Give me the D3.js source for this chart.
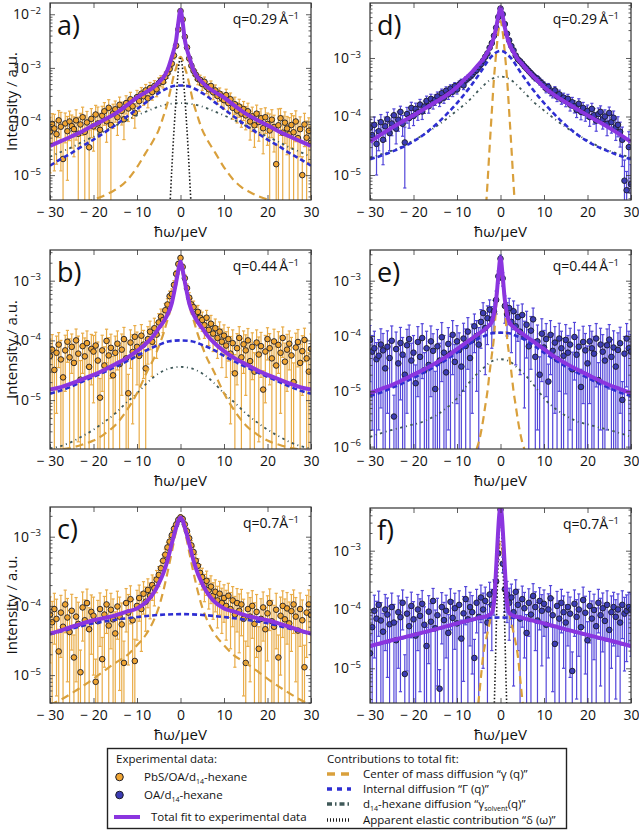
<!DOCTYPE html>
<html><head><meta charset="utf-8">
<script src="https://cdn.jsdelivr.net/npm/d3@7"></script>
<style>
body{margin:0;background:#fff}
svg{display:block}
text{font-family:"Open Sans","Noto Sans",sans-serif;fill:#111}
</style>
</head><body>
<svg id="chart" width="639" height="832"></svg>
<script>
// ---------------- DATA (intensities in units of 1e-5 a.u.) ----------------
const UNIT = 1e-5;
const energy = [-30,-29.5,-29,-28.5,-28,-27.5,-27,-26.5,-26,-25.5,-25,-24.5,-24,-23.5,-23,-22.5,-22,-21.5,-21,-20.5,-20,-19.5,-19,-18.5,-18,-17.5,-17,-16.5,-16,-15.5,-15,-14.5,-14,-13.5,-13,-12.5,-12,-11.5,-11,-10.5,-10,-9.5,-9,-8.5,-8,-7.5,-7,-6.5,-6,-5.5,-5,-4.5,-4,-3.5,-3,-2.5,-2,-1.5,-1,-0.5,0,0.5,1,1.5,2,2.5,3,3.5,4,4.5,5,5.5,6,6.5,7,7.5,8,8.5,9,9.5,10,10.5,11,11.5,12,12.5,13,13.5,14,14.5,15,15.5,16,16.5,17,17.5,18,18.5,19,19.5,20,20.5,21,21.5,22,22.5,23,23.5,24,24.5,25,25.5,26,26.5,27,27.5,28,28.5,29,29.5,30];

// panel a : PbS/OA/d14-hexane, q=0.29
const intensityA = [6.5,9.0,7.4,5.8,10.5,8.0,2.0,9.2,6.6,10.0,8.2,
 7.2,10.5,5.9,8.8,12.0,6.4,9.6,3.3,11.2,8.1,
 13.5,9.2,7.0,12.8,15.5,10.1,18.0,8.6,14.2,16.9,
 12.0,20.5,15.8,11.0,22.0,17.5,26.0,19.2,14.5,28.5,
 24.0,33.0,29.5,38.0,27.0,42.0,35.5,46.0,40.0,52.0,
 58,55,68,80,95,120,170,260,520,
 1150,
 800,380,240,150,110,88,75,62,60,
 50,55,44,40,46,35,38,30,33,27,
 25,31,22,26,18,21,16,19,14,17,
 13,15.5,10,12.5,8.5,14,9.8,11.5,7.5,12,
 9.0,6.8,10.8,7.9,1.6,8.5,11.5,6.2,9.5,7.4,
 5.8,8.6,6.3,10.0,4.9,7.2,1.0,8.8,5.0,6.7,4.0];
const errorA = [5.4,5.0,6.2,4.2,5.5,6.8,2.5,5.2,5.8,5.6,5.0,
 5.0,6.0,6.1,5.4,6.5,6.6,5.8,3.6,6.2,5.3,
 6.5,9.4,7.2,6.4,7.0,6.0,7.5,8.8,6.8,7.2,
 6.5,8.0,7.2,6.4,8.2,7.5,9.0,7.8,7.0,9.5,
 8.5,10,9.5,11,9.0,11.5,10.5,12,11,13,
 13.5,13,15,16,18,20,24,30,40,
 60,
 50,32,26,21,18,16,15,13.5,13,
 12,12.5,11,10.5,11,9.5,10,9,9.2,8.5,
 8.2,9.0,7.6,8.0,7.0,7.4,6.6,7.0,6.2,6.6,
 6.0,6.4,5.5,6.0,5.2,6.2,5.5,5.8,5.0,6.0,
 5.4,7.0,5.8,5.2,2.0,8.7,6.0,6.4,5.6,5.0,
 6.0,5.4,6.5,5.8,5.1,5.0,1.2,5.4,5.2,5.0,4.2];
const fitA = [[-30,3.5],[-27.5,4.3],[-25,5.3],[-22.5,6.6],[-20,8.5],[-17.5,10.8],[-15,14],[-12.5,19.5],[-10,28],[-8,35],[-6,45],[-5,54],[-4,65],[-3,90],[-2,160],[-1.5,220],[-1,330],[-0.5,700],[0,1200],[0.5,700],[1,330],[1.5,220],[2,160],[3,90],[4,65],[5,54],[6,45],[8,35],[10,28],[12.5,19.5],[15,14],[17.5,10.8],[20,8.5],[22.5,6.6],[25,5.3],[27.5,4.3],[30,3.5]];
const internalA = [[-30,1.5],[-27.5,2.0],[-25,2.6],[-22.5,3.5],[-20,4.6],[-17.5,6.2],[-15,8.5],[-12.5,12],[-10,17],[-8,22.5],[-6,30],[-4,38],[-2,45],[0,47],[2,45],[4,38],[6,30],[8,22.5],[10,17],[12.5,12],[15,8.5],[17.5,6.2],[20,4.6],[22.5,3.5],[25,2.6],[27.5,2.0],[30,1.5]];
const solventA = [[-30,2.2],[-27.5,2.7],[-25,3.3],[-22.5,4.2],[-20,5.2],[-17.5,6.6],[-15,8.3],[-12.5,10.5],[-10,13],[-7.5,15.8],[-5,19],[-2.5,21.2],[0,22],[2.5,21.2],[5,19],[7.5,15.8],[10,13],[12.5,10.5],[15,8.3],[17.5,6.6],[20,5.2],[22.5,4.2],[25,3.3],[27.5,2.7],[30,2.2]];
const comA = [[-22,0.3],[-20,0.35],[-18,0.4],[-16,0.48],[-14,0.6],[-12,0.85],[-10,1.4],[-8,2.6],[-6,4.8],[-5,7],[-4,12],[-3,22],[-2,50],[-1.5,75],[-1,100],[-0.5,140],[0,160],[0.5,140],[1,100],[1.5,75],[2,50],[3,22],[4,12],[5,7],[6,4.8],[8,2.6],[10,1.4],[12,0.85],[14,0.6],[16,0.48],[18,0.4],[20,0.35],[22,0.3]];
const elasticA = [[-2.8,0.08],[-2.4,0.32],[-2,1.3],[-1.6,5],[-1.2,16],[-0.8,45],[-0.4,110],[0,150],[0.4,110],[0.8,45],[1.2,16],[1.6,5],[2,1.3],[2.4,0.32],[2.8,0.08]];

// panel b : PbS/OA/d14-hexane, q=0.44
const intensityB = [5.5,7.0,3.2,6.2,8.5,4.8,2.4,6.8,9.5,5.2,7.8,
 4.2,10.0,6.0,2.2,8.0,5.4,9.0,3.6,7.2,6.5,
 8.2,4.6,1.1,6.8,3.8,9.8,5.6,7.5,2.6,6.2,
 8.8,4.0,7.0,10.5,5.0,1.3,9.2,6.4,11.5,7.8,
 5.5,12.0,8.5,3.4,10.5,14.0,9.5,16.0,12.5,20.0,
 25,22,32,40,55,60,85,130,190,
 240,
 170,110,75,52,40,36,28,30,24,
 22,18,24,15,19,13,16,11,14,9.5,
 12,8.2,10.5,6.0,9.0,2.8,7.4,11.0,5.2,8.6,
 6.8,10.0,4.5,7.8,3.0,9.2,5.8,8.0,1.5,6.5,
 10.5,7.4,5.0,9.6,3.8,8.4,6.2,11.0,4.4,7.0,
 8.8,5.6,2.0,7.6,9.4,4.2,6.6,10.2,5.0,3.0,7.2];
const errorB = [5.0,5.5,3.4,5.6,5.0,5.2,2.6,5.4,5.2,5.4,5.0,
 4.4,5.5,5.8,2.4,5.2,5.6,5.4,3.8,5.4,5.6,
 5.5,4.8,1.2,5.4,4.0,5.6,5.5,5.2,2.8,5.6,
 5.6,4.2,5.8,6.0,5.2,1.4,5.8,6.0,6.2,6.0,
 5.8,6.4,6.2,3.6,6.5,7.0,7.0,7.5,7.5,8.0,
 8.5,8.5,9.5,10,12,13,15,18,22,
 25,
 20,16,13,11,10,9.5,8.5,8.5,8.0,
 7.8,7.2,7.8,6.8,7.2,6.5,6.8,6.0,6.4,6.0,
 6.2,5.8,6.0,5.6,6.0,3.0,5.6,6.0,5.4,5.8,
 5.6,5.8,4.8,5.6,3.2,5.8,5.6,5.6,1.6,5.6,
 5.8,5.6,5.2,5.8,4.0,5.6,5.6,5.8,4.6,5.6,
 5.6,5.6,2.2,5.6,5.8,4.4,5.4,5.8,5.2,3.2,5.6];
const fitB = [[-30,1.5],[-27.5,1.65],[-25,1.9],[-22.5,2.25],[-20,2.65],[-17.5,3.2],[-15,4.0],[-12.5,5.0],[-10,6.6],[-7.5,9.5],[-6,12.5],[-5,16],[-4,20],[-3,27],[-2,42],[-1.5,62],[-1,95],[-0.5,150],[0,210],[0.5,150],[1,95],[1.5,62],[2,42],[3,27],[4,20],[5,16],[6,12.5],[7.5,9.5],[10,6.6],[12.5,5.0],[15,4.0],[17.5,3.2],[20,2.65],[22.5,2.25],[25,1.9],[27.5,1.65],[30,1.5]];
const internalB = [[-30,1.28],[-27.5,1.45],[-25,1.7],[-22.5,2.05],[-20,2.45],[-17.5,2.95],[-15,3.6],[-12.5,4.4],[-10,5.5],[-7.5,7.0],[-5,8.4],[-2.5,9.7],[0,10],[2.5,9.7],[5,8.4],[7.5,7.0],[10,5.5],[12.5,4.4],[15,3.6],[17.5,2.95],[20,2.45],[22.5,2.05],[25,1.7],[27.5,1.45],[30,1.28]];
const solventB = [[-30,0.155],[-27.5,0.17],[-25,0.2],[-22.5,0.25],[-20,0.32],[-17.5,0.43],[-15,0.6],[-12.5,0.9],[-10,1.3],[-7.5,2.0],[-5,2.8],[-2.5,3.4],[0,3.6],[2.5,3.4],[5,2.8],[7.5,2.0],[10,1.3],[12.5,0.9],[15,0.6],[17.5,0.43],[20,0.32],[22.5,0.25],[25,0.2],[27.5,0.17],[30,0.155]];
const comB = [[-30,0.14],[-27.5,0.15],[-25,0.16],[-22.5,0.18],[-20,0.21],[-17.5,0.27],[-15,0.38],[-12.5,0.65],[-10,1.3],[-7.5,3.2],[-6,5.2],[-5,7.9],[-4,12.5],[-3,22],[-2,40],[-1.5,60],[-1,90],[-0.5,130],[0,170],[0.5,130],[1,90],[1.5,60],[2,40],[3,22],[4,12.5],[5,7.9],[6,5.2],[7.5,3.2],[10,1.3],[12.5,0.65],[15,0.38],[17.5,0.27],[20,0.21],[22.5,0.18],[25,0.16],[27.5,0.15],[30,0.14]];

// panel c : PbS/OA/d14-hexane, q=0.7
const intensityC = [7.5,5.8,9.0,6.5,2.2,8.0,5.0,10.5,6.8,4.2,8.5,
 1.8,7.0,5.5,1.1,9.5,6.2,11.0,4.6,8.2,7.2,
 0.8,6.0,9.0,1.7,7.5,10.5,5.2,8.8,6.4,4.0,
 9.8,7.0,5.4,1.5,11.0,8.0,12.5,6.2,1.6,10.0,
 13.0,9.0,15.0,11.5,17.0,14.0,20.0,18.0,24.0,28.0,
 35,45,55,70,85,105,130,150,175,
 190,
 180,150,120,95,75,60,45,38,30,
 26,20,23,17,19,14,16,12,15,11,
 13,10,14,9,12,7.5,11,8.5,10.5,6.5,
 1.5,9.0,7.0,10.0,5.5,8.2,2.4,6.5,9.5,4.6,
 7.8,11.0,6.0,5.0,8.8,1.8,7.2,10.0,6.4,9.2,
 5.6,8.4,10.5,7.0,4.4,9.0,6.2,1.3,8.0,10.5,7.4];
const errorC = [6.0,5.8,6.2,6.0,2.4,6.2,5.2,6.4,6.0,4.4,6.2,
 2.0,6.2,5.8,1.2,6.4,6.0,6.5,4.8,6.2,6.2,
 0.9,6.0,6.4,1.8,6.2,6.5,5.4,6.4,6.2,4.2,
 6.5,6.4,5.6,1.6,6.8,6.6,7.0,6.2,1.7,6.8,
 7.0,6.8,7.4,7.2,7.6,7.5,8.0,8.0,8.5,9.0,
 9.5,10,11,12,13,14,15,16,17,
 18,
 17,16,15,13.5,12.5,11.5,10.5,10,9.5,
 9.0,8.5,8.8,8.0,8.2,7.6,7.8,7.2,7.6,7.0,
 7.2,6.8,7.2,6.6,7.0,6.2,6.8,6.4,6.8,6.0,
 1.6,6.4,6.2,6.6,5.6,6.4,2.6,6.2,6.4,4.8,
 6.2,6.6,6.0,5.2,6.4,2.0,6.2,6.5,6.2,6.4,
 5.8,6.2,6.5,6.2,4.6,6.4,6.0,1.4,6.2,6.5,6.2];
const fitC = [[-30,4.0],[-27.5,4.4],[-25,5.0],[-22.5,5.6],[-20,6.2],[-17.5,6.7],[-15,7.3],[-12.5,8.2],[-10,9.2],[-7.5,12],[-6,16],[-5,21],[-4,29],[-3,45],[-2,80],[-1.5,105],[-1,135],[-0.5,170],[0,190],[0.5,170],[1,135],[1.5,105],[2,80],[3,45],[4,29],[5,21],[6,16],[7.5,12],[10,9.2],[12.5,8.2],[15,7.3],[17.5,6.7],[20,6.2],[22.5,5.6],[25,5.0],[27.5,4.4],[30,4.0]];
const internalC = [[-30,3.9],[-25,4.7],[-20,5.6],[-15,6.3],[-10,6.9],[-5,7.4],[0,7.6],[5,7.4],[10,6.9],[15,6.3],[20,5.6],[25,4.7],[30,3.9]];
const comC = [[-30,0.37],[-27,0.46],[-24,0.6],[-21,0.8],[-18,1.1],[-15,1.5],[-12,2.0],[-10,2.7],[-8,3.8],[-6,6.5],[-5,9.5],[-4,16],[-3,30],[-2,60],[-1,120],[0,180],[1,120],[2,60],[3,30],[4,16],[5,9.5],[6,6.5],[8,3.8],[10,2.7],[12,2.0],[15,1.5],[18,1.1],[21,0.8],[24,0.6],[27,0.46],[30,0.37]];

// panel d : OA/d14-hexane, q=0.29
const intensityD = [6.5,4.8,7.2,3.4,5.6,8.0,4.0,6.8,9.0,5.2,7.6,
 10.5,6.2,8.8,12.0,7.5,3.6,11.0,9.4,14.0,10.2,
 13.5,11.8,16.0,12.2,14.8,18.5,15.0,20.0,17.2,19.5,
 22.0,18.8,25.0,21.0,27.5,24.0,30.0,26.5,33.0,29.0,
 35.0,38.0,34.0,42.0,45.0,48.0,52.0,58.0,62.0,70.0,
 78,90,105,120,150,180,240,330,500,
 700,
 560,380,260,200,160,135,110,95,88,
 80,72,66,60,55,50,46,44,40,37,
 34,30,32,27,25,28,22,24,20,21,
 18.5,20.0,16.0,17.5,15.0,13.0,16.5,12.0,14.0,11.5,
 12.5,9.8,13.5,10.5,8.5,11.0,12.0,9.0,10.0,7.5,
 11.5,8.0,9.5,6.5,7.2,5.5,4.0,0.8,0.55,3.0,0.7];
const errorD = [2.5,2.8,2.6,2.4,3.0,2.8,2.5,3.0,2.8,2.6,2.9,
 3.0,2.8,3.2,3.0,2.9,3.0,3.3,3.1,3.5,3.2,
 3.4,3.2,3.6,3.3,3.5,3.8,3.6,4.0,3.8,4.0,
 4.2,4.0,4.4,4.2,4.6,4.4,4.8,4.6,5.0,4.8,
 5.2,5.4,5.2,5.6,5.8,6.0,6.2,6.5,6.8,7.0,
 7.5,8,8.5,9,10,11,13,15,18,
 22,
 20,16,13,11,10,9,8.5,8,7.5,
 7.2,6.8,6.5,6.2,6.0,5.8,5.6,5.4,5.2,5.0,
 4.8,4.6,4.6,4.4,4.2,4.4,4.0,4.2,3.8,4.0,
 3.8,3.9,3.6,3.7,3.5,3.4,3.6,3.2,3.4,3.2,
 3.2,3.0,3.3,3.1,2.9,3.0,3.2,2.9,3.0,2.8,
 3.0,2.8,2.9,2.6,2.7,2.5,2.6,1.0,0.6,2.5,0.8];
const fitD = [[-30,3.7],[-27.5,4.9],[-25,6.4],[-22.5,8.2],[-20,10.5],[-17.5,13.5],[-15,17.5],[-12.5,23],[-10,32],[-8,45],[-6.5,58],[-5,78],[-4,95],[-3,125],[-2,175],[-1.5,230],[-1,330],[-0.5,520],[0,730],[0.5,520],[1,330],[1.5,230],[2,175],[3,125],[4,95],[5,78],[6.5,58],[8,45],[10,32],[12.5,23],[15,17.5],[17.5,13.5],[20,10.5],[22.5,8.2],[25,6.4],[27.5,4.9],[30,3.7]];
const internalD = [[-30,1.85],[-25,2.5],[-20.7,3.5],[-17.2,5.2],[-13.8,8.6],[-10,17],[-7,32],[-4.6,57],[-2.3,102],[0,133],[2.3,102],[4.6,57],[7,32],[10,17],[13.8,8.6],[17.2,5.2],[20.7,3.5],[25,2.5],[30,1.85]];
const solventD = [[-30,2.0],[-27.5,2.25],[-25,2.6],[-22.5,3.1],[-20,3.9],[-17.5,5],[-15,6.6],[-12.5,9],[-10,12.7],[-7.5,18],[-5,28],[-2,44],[0,48],[2,44],[5,28],[7.5,18],[10,12.7],[12.5,9],[15,6.6],[17.5,5],[20,3.9],[22.5,3.1],[25,2.6],[27.5,2.25],[30,2.0]];
const comD = [[-3.5,0.15],[-3,0.7],[-2.5,3],[-2,12],[-1.5,45],[-1,120],[-0.5,280],[0,430],[0.5,280],[1,120],[1.5,45],[2,12],[2.5,3],[3,0.7],[3.5,0.15]];

// panel e : OA/d14-hexane, q=0.44
const intensityE = [8.5,5.2,6.0,3.8,4.4,7.0,5.5,2.6,6.4,4.0,8.2,
 0.35,5.8,3.2,7.5,4.6,2.0,6.8,8.8,3.6,5.0,
 1.4,7.8,4.2,9.2,2.4,6.0,3.0,8.0,5.4,1.1,
 6.5,3.6,9.5,5.0,2.2,7.2,4.8,10.5,3.4,8.0,
 5.6,2.8,9.0,6.6,12.0,4.0,8.4,15.0,10.0,7.0,
 18,26,14,21,30,20,28,45,120,
 250,
 110,35,25,32,18,28,15,22,12,
 24,9.5,16,6.5,12.5,20,4.2,8.0,2.0,11.0,
 6.2,8.8,1.5,10.5,5.4,7.6,3.8,9.0,6.0,4.4,
 8.5,5.0,7.0,2.5,9.6,4.6,6.4,1.2,7.8,5.5,
 3.2,8.0,6.0,4.8,9.0,1.6,7.0,5.2,3.6,6.8,
 8.6,4.2,6.2,2.8,5.6,7.4,0.7,4.8,9.0,6.0,5.2];
const errorE = [7.0,5.0,6.2,3.8,4.2,6.5,5.6,2.8,6.0,4.2,7.0,
 0.5,6.0,3.3,6.8,4.8,2.2,6.4,7.0,3.8,5.2,
 1.6,7.0,4.4,7.5,2.6,6.2,3.2,7.2,5.6,1.2,
 6.6,3.8,8.0,5.2,2.4,7.0,5.0,8.5,3.6,7.4,
 5.8,3.0,8.0,6.8,9.5,4.2,8.0,10.0,9.0,7.2,
 12,14,12,14,15,14,16,20,30,
 40,
 30,18,15,16,13,15,12,14,10,
 14,9.0,12,6.6,10,12,4.4,7.8,2.2,9.5,
 6.4,8.0,1.6,8.5,5.6,7.2,4.0,8.0,6.2,4.6,
 7.6,5.2,6.8,2.6,8.0,4.8,6.4,1.3,7.2,5.6,
 3.4,7.4,6.2,5.0,7.8,1.7,6.8,5.4,3.8,6.6,
 7.5,4.4,6.2,3.0,5.8,7.0,0.8,5.0,7.8,6.2,5.4];
const fitE = [[-30,0.93],[-27.5,1.1],[-25,1.3],[-22.5,1.6],[-20,2.0],[-17.5,2.5],[-15,3.2],[-12.5,4.2],[-10,5.8],[-7.5,8],[-5,11],[-3,14.5],[-2,18],[-1.5,25],[-1,45],[-0.5,120],[0,260],[0.5,120],[1,45],[1.5,25],[2,18],[3,14.5],[5,11],[7.5,8],[10,5.8],[12.5,4.2],[15,3.2],[17.5,2.5],[20,2.0],[22.5,1.6],[25,1.3],[27.5,1.1],[30,0.93]];
const internalE = [[-30,0.82],[-27.5,0.95],[-25,1.15],[-22.5,1.4],[-20,1.75],[-17.5,2.2],[-15,2.8],[-12.5,3.7],[-10,5.0],[-7.5,6.9],[-5,9.0],[-3,10.5],[-2,11.2],[0,11.5],[2,11.2],[3,10.5],[5,9.0],[7.5,6.9],[10,5.0],[12.5,3.7],[15,2.8],[17.5,2.2],[20,1.75],[22.5,1.4],[25,1.15],[27.5,0.95],[30,0.82]];
const solventE = [[-30,0.15],[-26,0.19],[-22,0.23],[-17,0.3],[-13,0.46],[-10,0.75],[-8,1.2],[-6,1.85],[-4,2.6],[-2,3.5],[0,3.8],[2,3.5],[4,2.6],[6,1.85],[8,1.2],[10,0.75],[13,0.46],[17,0.3],[22,0.23],[26,0.19],[30,0.15]];
const comE = [[-5.5,0.09],[-5,0.12],[-4.5,0.18],[-4,0.3],[-3.5,0.55],[-3,1.0],[-2.5,2.2],[-2,4.5],[-1.5,9.5],[-1,35],[-0.5,90],[0,130],[0.5,90],[1,35],[1.5,9.5],[2,4.5],[2.5,2.2],[3,1.0],[3.5,0.55],[4,0.3],[4.5,0.18],[5,0.12],[5.5,0.09]];

// panel f : OA/d14-hexane, q=0.7
const intensityF = [1.8,5.0,9.5,7.0,12.0,6.5,4.2,10.0,8.2,5.6,11.0,
 6.0,3.0,9.0,7.4,13.0,0.8,8.5,5.2,11.5,6.8,
 3.6,10.0,7.8,12.5,5.5,2.4,9.2,6.2,14.0,4.8,
 8.0,0.45,11.0,6.6,9.5,4.0,13.5,7.2,10.5,5.8,
 12.0,3.2,8.6,15.0,6.8,11.0,9.0,1.5,13.0,7.5,
 16.0,10.0,14.0,6.0,18.0,12.0,20,30,90,
 500,
 60,22,18,13,16,9.0,20,12,7.0,
 15.0,10.5,4.0,13.0,8.2,17.0,11.0,6.5,14.0,9.5,
 12.5,5.5,10.0,15.5,8.0,2.6,11.5,7.0,13.0,9.0,
 6.0,11.0,8.5,0.9,12.5,7.5,10.0,5.0,14.5,8.8,
 3.0,11.5,7.0,9.8,5.2,13.0,8.0,10.5,6.4,12.0,
 4.5,9.0,11.0,7.5,10.0,6.0,12.0,8.5,9.5,11.0,10.0];
const errorF = [1.9,5.0,8.0,6.8,8.5,6.6,4.4,8.0,7.5,5.8,8.0,
 6.2,3.2,8.0,7.0,8.5,0.9,7.6,5.4,8.2,6.8,
 3.8,8.0,7.4,8.5,5.6,2.6,8.0,6.4,8.8,5.0,
 7.5,0.5,8.4,6.6,8.0,4.2,9.0,7.0,8.4,6.0,
 8.8,3.4,8.0,9.5,7.0,8.6,8.2,1.6,9.0,7.5,
 10,9.0,10,6.2,11,10,12,14,20,
 40,
 18,13,12,10,11,8.5,12,10,7.0,
 10,9.0,4.2,9.5,8.0,10.5,9.0,6.6,9.5,8.4,
 9.0,5.6,8.5,10,7.6,2.8,8.8,7.0,9.0,8.0,
 6.0,8.6,7.8,1.0,9.0,7.2,8.4,5.2,9.5,8.0,
 3.2,8.8,7.0,8.4,5.4,9.0,7.5,8.6,6.4,8.8,
 4.6,8.0,8.6,7.2,8.4,6.2,8.8,7.6,8.2,8.6,8.4];
const fitF = [[-30,2.4],[-25,3.0],[-20,3.7],[-15,4.6],[-10,5.8],[-5,7.2],[-3,7.8],[-2,8.8],[-1.5,13],[-1.2,27],[-0.9,70],[-0.6,180],[-0.3,400],[0,550],[0.3,400],[0.6,180],[0.9,70],[1.2,27],[1.5,13],[2,8.8],[3,7.8],[5,7.2],[10,5.8],[15,4.6],[20,3.7],[25,3.0],[30,2.4]];
const internalF = [[-30,2.35],[-25,2.9],[-20,3.6],[-15,4.5],[-10,5.6],[-5,6.9],[-3,7.2],[0,7.3],[3,7.2],[5,6.9],[10,5.6],[15,4.5],[20,3.6],[25,2.9],[30,2.35]];
const comF = [[-5.5,0.15],[-5,0.3],[-4.5,0.7],[-4,1.6],[-3.5,2.7],[-3,4],[-2.5,6],[-2,9],[-1.5,18],[-1,40],[-0.5,90],[0,140],[0.5,90],[1,40],[1.5,18],[2,9],[2.5,6],[3,4],[3.5,2.7],[4,1.6],[4.5,0.7],[5,0.3],[5.5,0.15]];
const elasticF = [[-1.5,0.15],[-1.2,1],[-0.9,8],[-0.6,50],[-0.3,200],[0,400],[0.3,200],[0.6,50],[0.9,8],[1.2,1],[1.5,0.15]];

const panelLetters = ["a)","b)","c)","d)","e)","f)"];
const qValues = ["0.29\u2009","0.44\u2009","0.7","0.29\u2009","0.44\u2009","0.7"];
const xTicks = [-30,-20,-10,0,10,20,30];

// ---------------- LAYOUT ----------------
const COL = {orange:{fill:"#F0A532",bar:"#E9AC48"}, blue:{fill:"#3C3CB4",bar:"#5346DA"}};
const panels = [
 {letter:0, kind:"orange", I:intensityA, E:errorA, fit:fitA, internal:internalA, solvent:solventA, com:comA, elastic:elasticA, box:[50,311,3,200], logDom:[-5.464,-1.79], decades:[-5,-4,-3,-2], yTitle:true},
 {letter:1, kind:"orange", I:intensityB, E:errorB, fit:fitB, internal:internalB, solvent:solventB, com:comB, elastic:null, box:[50,311,250,449], logDom:[-5.819,-2.486], decades:[-5,-4,-3], yTitle:true},
 {letter:2, kind:"orange", I:intensityC, E:errorC, fit:fitC, internal:internalC, solvent:null, com:comC, elastic:null, box:[50,311,507,703], logDom:[-5.403,-2.571], decades:[-5,-4,-3], yTitle:true},
 {letter:3, kind:"blue", I:intensityD, E:errorD, fit:fitD, internal:internalD, solvent:solventD, com:comD, elastic:null, box:[370,631,3,200], logDom:[-5.427,-2.06], decades:[-5,-4,-3], yTitle:false},
 {letter:4, kind:"blue", I:intensityE, E:errorE, fit:fitE, internal:internalE, solvent:solventE, com:comE, elastic:null, box:[370,631,250,449], logDom:[-6.043,-2.445], decades:[-6,-5,-4,-3], yTitle:false},
 {letter:5, kind:"blue", I:intensityF, E:errorF, fit:fitF, internal:internalF, solvent:null, com:comF, elastic:elasticF, box:[370,631,508,703], logDom:[-5.59,-2.274], decades:[-5,-4,-3], yTitle:false},
];

const svg = d3.select("#chart");
const defs = svg.append("defs");

panels.forEach((p, pi) => {
  const [L,R,T,B] = p.box;
  const x = d3.scaleLinear().domain([-30,30]).range([L,R]);
  const yMin = Math.pow(10,p.logDom[0]), yMax = Math.pow(10,p.logDom[1]);
  const y = d3.scaleLog().domain([yMin,yMax]).range([B,T]);
  const yv = v => y(Math.max(v*UNIT, yMin*0.5));
  const g = svg.append("g");
  const clipId = "clip"+pi;
  defs.append("clipPath").attr("id",clipId).append("rect").attr("x",L).attr("y",T).attr("width",R-L).attr("height",B-T);
  const plot = g.append("g").attr("clip-path",`url(#${clipId})`);
  const col = COL[p.kind];

  // error bars
  const pts = energy.map((e,i)=>({e, v:p.I[i], s:p.E[i]}));
  const eb = plot.append("g").attr("stroke",col.bar).attr("stroke-width",1.2);
  pts.forEach(d=>{
    const lo = d.v - d.s > 0 ? yv(d.v-d.s) : B+2;
    const hi = yv(d.v+d.s);
    const xx = x(d.e);
    eb.append("line").attr("x1",xx).attr("x2",xx).attr("y1",lo).attr("y2",hi);
    eb.append("line").attr("x1",xx-1.6).attr("x2",xx+1.6).attr("y1",hi).attr("y2",hi);
    if (d.v - d.s > 0) eb.append("line").attr("x1",xx-1.6).attr("x2",xx+1.6).attr("y1",lo).attr("y2",lo);
  });
  // markers
  plot.append("g").selectAll("circle").data(pts).join("circle")
    .attr("cx",d=>x(d.e)).attr("cy",d=>yv(d.v)).attr("r",2.8)
    .attr("fill",col.fill).attr("stroke","#1c1c28").attr("stroke-width",0.9);

  const line = d3.line().x(d=>x(d[0])).y(d=>yv(d[1])).curve(d3.curveMonotoneX);
  const drawCurve = (arr, stroke, w, dash) => {
    if (!arr) return;
    plot.append("path").attr("d",line(arr)).attr("fill","none").attr("stroke",stroke)
      .attr("stroke-width",w).attr("stroke-dasharray",dash);
  };
  drawCurve(p.solvent, "#3f5858", 1.8, "2.5,3.5,1,3.5");
  drawCurve(p.com, "#D9A03C", 2.2, "8,5");
  drawCurve(p.elastic, "#1a1a1a", 1.6, "1.5,2");
  drawCurve(p.internal, "#2E2ED2", 2.6, "5,3");
  drawCurve(p.fit, "#8B35DF", 4, null);

  // axes (ticks pointing inward)
  const major = p.decades.map(d=>Math.pow(10,d));
  const minor = [];
  for (let dd = Math.floor(p.logDom[0]); dd < Math.ceil(p.logDom[1]); dd++) {
    for (let m = 2; m <= 9; m++) { const v = m*Math.pow(10,dd); if (v>yMin && v<yMax) minor.push(v); }
  }
  const yl = g.append("g").attr("transform",`translate(${L},0)`)
    .call(d3.axisLeft(y).tickValues(major).tickSize(-5).tickPadding(9).tickFormat(()=>"10"));
  yl.selectAll(".tick text").attr("font-size","14px").each(function(d){
    d3.select(this).append("tspan").attr("dy","-0.55em").attr("dx","1").attr("font-size","9.5px").text("\u2212"+(-Math.round(Math.log10(d))));
  });
  g.append("g").attr("transform",`translate(${L},0)`).call(d3.axisLeft(y).tickValues(minor).tickSize(-2.5).tickFormat(""));
  g.append("g").attr("transform",`translate(${R},0)`).call(d3.axisRight(y).tickValues(major).tickSize(-5).tickFormat(""));
  g.append("g").attr("transform",`translate(${R},0)`).call(d3.axisRight(y).tickValues(minor).tickSize(-2.5).tickFormat(""));
  const xl = g.append("g").attr("transform",`translate(0,${B})`)
    .call(d3.axisBottom(x).tickValues(xTicks).tickSize(-5).tickPadding(7).tickFormat(d=> d<0 ? "\u2212 "+(-d) : String(d)));
  xl.selectAll(".tick text").attr("font-size","14px").attr("dy","0.72em");
  g.append("g").attr("transform",`translate(0,${T})`).call(d3.axisTop(x).tickValues(xTicks).tickSize(-5).tickFormat(""));
  g.selectAll(".domain").remove();
  g.selectAll(".tick line").attr("stroke","#333").attr("stroke-width",0.8);
  g.selectAll(".tick text").attr("fill","#111").attr("font-family",'"Open Sans","Noto Sans",sans-serif');

  g.append("rect").attr("x",L).attr("y",T).attr("width",R-L).attr("height",B-T)
    .attr("fill","none").attr("stroke","#333").attr("stroke-width",1.2);

  // x title
  g.append("text").attr("x",(L+R)/2).attr("y",B+37).attr("text-anchor","middle").attr("font-size","15px").text("\u0127\u03c9/\u00b5eV");
  // y title
  if (p.yTitle) {
    g.append("text").attr("transform",`translate(17,${(T+B)/2}) rotate(-90)`).attr("text-anchor","middle").attr("font-size","15px").text("Intensity / a.u.");
  }
  // panel letter
  g.append("text").attr("x",L+7).attr("y",T+32).attr("font-size","27px").text(panelLetters[p.letter]);
  // q label
  const qt = g.append("text").attr("x",R-12).attr("y",T+21).attr("text-anchor","end").attr("font-size","14px");
  qt.append("tspan").text("q="+qValues[p.letter]+"\u00c5");
  qt.append("tspan").attr("dy","-0.55em").attr("font-size","9.5px").text("\u22121");
});

// ---------------- LEGEND ----------------
const lg = svg.append("g");
lg.append("rect").attr("x",107.5).attr("y",748.5).attr("width",459).attr("height",80)
  .attr("fill","#fff").attr("stroke","#222").attr("stroke-width",1.4);
const lfs = "11.5px";
const ltext = (x, y, parts) => {
  const t = lg.append("text").attr("x",x).attr("y",y).attr("font-size",lfs);
  let shift = 0;
  parts.forEach(pt => {
    if (typeof pt === "string") {
      t.append("tspan").attr("dy", shift ? -shift : null).text(pt);
      shift = 0;
    } else {
      t.append("tspan").attr("dy",3).attr("font-size","7px").text(pt.sub);
      shift = 3;
    }
  });
  return t;
};
ltext(116,763,["Experimental data:"]);
lg.append("circle").attr("cx",119.5).attr("cy",777).attr("r",3.8).attr("fill",COL.orange.fill).attr("stroke","#1c1c28").attr("stroke-width",1);
ltext(144,781,["PbS/OA/d",{sub:"14"},"-hexane"]);
lg.append("circle").attr("cx",119.5).attr("cy",795).attr("r",3.8).attr("fill",COL.blue.fill).attr("stroke","#1c1c28").attr("stroke-width",1);
ltext(144,799,["OA/d",{sub:"14"},"-hexane"]);
lg.append("line").attr("x1",114).attr("x2",140).attr("y1",817).attr("y2",817).attr("stroke","#8B35DF").attr("stroke-width",4);
ltext(151,821,["Total fit to experimental data"]);

ltext(327,763,["Contributions to total fit:"]);
const lItems = [
  {y:774, stroke:"#D9A03C", w:3.5, dash:"8,6", parts:["Center of mass diffusion  \u201c\u03b3 (q)\u201d"]},
  {y:789, stroke:"#2E2ED2", w:3.5, dash:"5,5", parts:["Internal diffusion  \u201c\u0393 (q)\u201d"]},
  {y:804, stroke:"#3f5858", w:3.5, dash:"5,3,1.5,3", parts:["d",{sub:"14"},"-hexane diffusion  \u201c\u03b3",{sub:"solvent"},"(q)\u201d"]},
  {y:820, stroke:"#1a1a1a", w:3.5, dash:"1,2", parts:["Apparent elastic contribution \u201c\u03b4 (\u03c9)\u201d"]},
];
lItems.forEach(it => {
  lg.append("line").attr("x1",327).attr("x2",351).attr("y1",it.y).attr("y2",it.y)
    .attr("stroke",it.stroke).attr("stroke-width",it.w).attr("stroke-dasharray",it.dash);
  ltext(363,it.y+4,it.parts);
});
</script>
</body></html>
